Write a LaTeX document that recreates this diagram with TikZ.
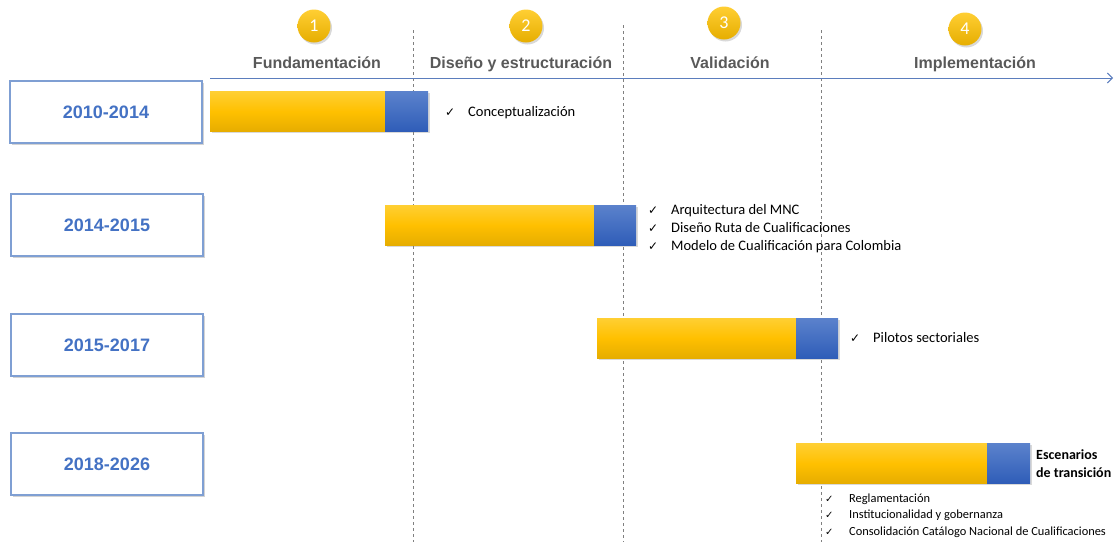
\documentclass[tikz,border=0pt]{standalone}
\usepackage{fontspec}
\setmainfont{Liberation Sans}
\newfontfamily\calfont{Carlito}
\newfontfamily\checkfont{DejaVu Sans}
\usepackage{xcolor}
\usepackage{tikz}
\usetikzlibrary{arrows,arrows.meta}
\usetikzlibrary{positioning}
\usetikzlibrary{shadows}

\definecolor{gold}{HTML}{FFC000}
\definecolor{goldtop}{HTML}{FFCF33}
\definecolor{goldbot}{HTML}{E6AD00}
\definecolor{bartop}{HTML}{5B82CC}
\definecolor{barbot}{HTML}{2F5DB8}
\definecolor{yeartxt}{HTML}{4472C4}
\definecolor{yearline}{HTML}{7F9FD3}
\definecolor{axisblue}{HTML}{5B7DBD}
\definecolor{phasegray}{HTML}{595959}

\newcommand{\ok}[1]{\makebox[23pt][l]{\checkfont\fontsize{12}{12}\selectfont ✓}#1}
\newcommand{\oksm}[1]{\makebox[24pt][l]{\checkfont\fontsize{10}{10}\selectfont ✓}#1}

\begin{document}
\begin{tikzpicture}[x=1pt,y=-1pt,
    yearbox/.style={draw=yearline,line width=1.6pt,fill=white,minimum width=192pt,minimum height=62pt,
      drop shadow={shadow xshift=2pt,shadow yshift=-2pt,opacity=0.35},
      text=yeartxt,font=\fontsize{18}{18}\selectfont\bfseries},
    phase/.style={circle,top color=goldtop,bottom color=goldbot,minimum size=33pt,inner sep=0pt,text=white,
      drop shadow={shadow xshift=1.5pt,shadow yshift=-2pt,opacity=0.3},font=\calfont\fontsize{18}{18}\selectfont},
    phasename/.style={anchor=base,text=phasegray,font=\fontsize{16}{16}\selectfont\bfseries},
    yel/.style={rectangle,top color=goldtop,bottom color=goldbot,middle color=gold,minimum height=40pt,
      inner sep=0pt,outer sep=0pt,anchor=west,drop shadow={shadow xshift=1.5pt,shadow yshift=-1.5pt,opacity=0.3}},
    blu/.style={rectangle,top color=bartop,bottom color=barbot,minimum height=40pt,inner sep=0pt,outer sep=0pt,
      anchor=west,drop shadow={shadow xshift=1.5pt,shadow yshift=-1.5pt,opacity=0.3}},
    items/.style={inner sep=0pt,align=left,font=\calfont\fontsize{14.5}{18}\selectfont},
    itemssm/.style={inner sep=0pt,align=left,font=\calfont\fontsize{12.4}{16.5}\selectfont},
    sep/.style={draw=gray,dashed,line width=0.8pt},
    axis/.style={draw=axisblue,line width=1pt,-{Straight Barb[length=5pt,width=10pt]}}]
  \useasboundingbox (0,0) rectangle (1120,542);

  % fases
  \draw[sep] (413,30) -- (413,542);
  \draw[sep] (623,25) -- (623,542);
  \draw[sep] (821,30) -- (821,542);

  \coordinate (ax0) at (210,78);
  \coordinate (ax1) at (1113,78);
  \draw[axis] (ax0) -- (ax1);

  \node[phase] (c1) at (314,26) {1};
  \node[phase] (c2) at (526,26) {2};
  \node[phase] (c3) at (724,23) {3};
  \node[phase] (c4) at (965,29) {4};
  \node[phasename] (p1) at (317,68) {Fundamentación};
  \node[phasename] (p2) at (521,68) {Diseño y estructuración};
  \node[phasename] (p3) at (730,68) {Validación};
  \node[phasename] (p4) at (975,68) {Implementación};

  % periodos
  \node[yearbox] (y1) at (106,112) {2010-2014};
  \node[yearbox] (y2) at (107,225) {2014-2015};
  \node[yearbox] (y3) at (107,345) {2015-2017};
  \node[yearbox] (y4) at (107,464) {2018-2026};

  % barras
  \node[yel,minimum width=175pt] (b1y) at (210,111.5) {};
  \node[blu,minimum width=43pt] (b1b) at (b1y.east) {};
  \node[yel,minimum width=209pt] (b2y) at (385,225) {};
  \node[blu,minimum width=42pt] (b2b) at (b2y.east) {};
  \node[yel,minimum width=199pt] (b3y) at (597,338) {};
  \node[blu,minimum width=42pt] (b3b) at (b3y.east) {};
  \node[yel,minimum width=191pt] (b4y) at (796,463.5) {};
  \node[blu,minimum width=43pt] (b4b) at (b4y.east) {};

  % resultados
  \node[items,anchor=west,right=17pt of b1b,yshift=-1pt] (r1) {\ok{Conceptualización}};
  \node[items,anchor=west,right=12pt of b2b,yshift=-4pt] (r2) {\ok{Arquitectura del MNC}\\
    \ok{Diseño Ruta de Cualificaciones}\\\ok{Modelo de Cualificación para Colombia}};
  \node[items,anchor=west,right=12pt of b3b] (r3) {\ok{Pilotos sectoriales}};
  \node[items,anchor=west,right=6pt of b4b,font=\calfont\bfseries\fontsize{14}{18}\selectfont] (r4) {Escenarios\\de transición};
  \node[itemssm,below right=10pt and 29pt of b4y.south west] (r5) {\oksm{Reglamentación}\\
    \oksm{Institucionalidad y gobernanza}\\\oksm{Consolidación Catálogo Nacional de Cualificaciones}};
\end{tikzpicture}
\end{document}
